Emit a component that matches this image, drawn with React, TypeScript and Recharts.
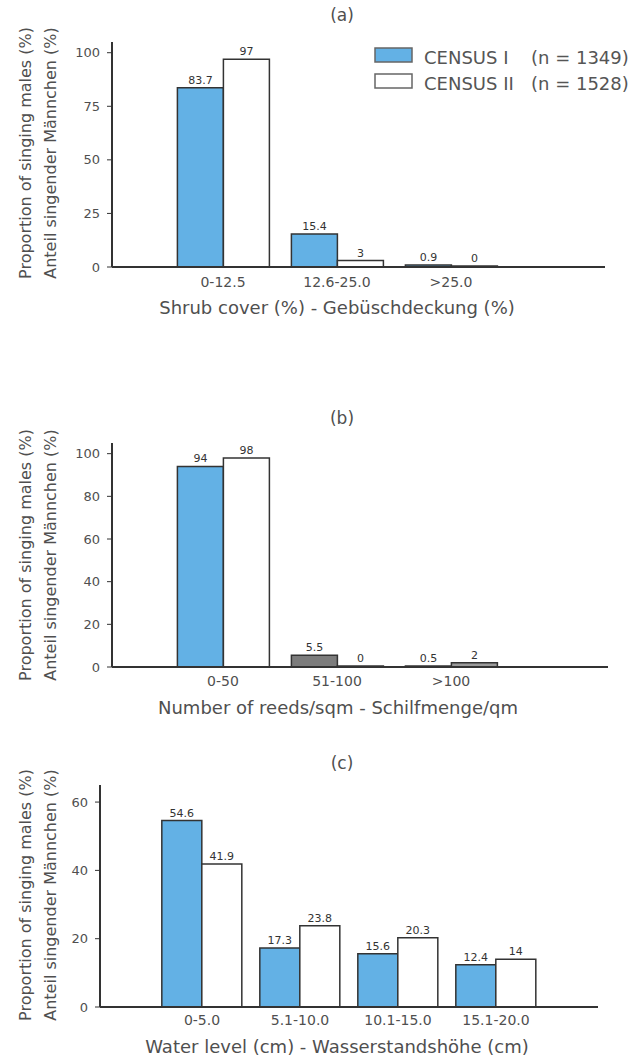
import React from 'react';
import { BarChart, Bar, XAxis, YAxis, LabelList, Legend, Cell } from 'recharts';

const seriesNames = ['CENSUS I', 'CENSUS II'];
const seriesCounts = [1349, 1528];

const shrubCategories = ['0-12.5', '12.6-25.0', '>25.0'];
const shrubCensus1 = [83.7, 15.4, 0.9];
const shrubCensus2 = [97, 3, 0];
const shrubTicks = [0, 25, 50, 75, 100];

const reedCategories = ['0-50', '51-100', '>100'];
const reedCensus1 = [94, 5.5, 0.5];
const reedCensus2 = [98, 0, 2];
const reedTicks = [0, 20, 40, 60, 80, 100];

const waterCategories = ['0-5.0', '5.1-10.0', '10.1-15.0', '15.1-20.0'];
const waterCensus1 = [54.6, 17.3, 15.6, 12.4];
const waterCensus2 = [41.9, 23.8, 20.3, 14];
const waterTicks = [0, 20, 40, 60];

const BLUE = '#63b1e5';
const WHITE = '#ffffff';
const FONT = 'DejaVu Sans';
const TEXT = '#4f4f4f';
const AXIS = '#333333';

const build = (cats: string[], a: number[], b: number[]) =>
  cats.map((cat, i) => ({ cat, c1: a[i], c2: b[i] }));

const shrubData = build(shrubCategories, shrubCensus1, shrubCensus2);
const reedData = build(reedCategories, reedCensus1, reedCensus2);
const waterData = build(waterCategories, waterCensus1, waterCensus2);

const reedFills1 = [BLUE, '#7c7c7c', BLUE];
const reedFills2 = [WHITE, WHITE, '#9a9a9a'];

const XTitle = (props: any) => (
  <text x={props.cx} y={props.cy} textAnchor="middle" dominantBaseline="central"
    fontSize={18} fill={TEXT} fontFamily={FONT}>{props.text}</text>
);

const YTitle = (props: any) => (
  <g>
    <text x={25} y={props.cy} transform={`rotate(-90, 25, ${props.cy})`} textAnchor="middle"
      dominantBaseline="central" fontSize={16} fill={TEXT} fontFamily={FONT}>
      Proportion of singing males (%)
    </text>
    <text x={50} y={props.cy} transform={`rotate(-90, 50, ${props.cy})`} textAnchor="middle"
      dominantBaseline="central" fontSize={16} fill={TEXT} fontFamily={FONT}>
      Anteil singender Männchen (%)
    </text>
  </g>
);

const LegendContent = (props: any) => {
  const payload = props.payload || [];
  return (
    <svg width={270} height={46} style={{ display: 'block' }}>
      {payload.map((entry: any, i: number) => (
        <g key={i} transform={`translate(0, ${i * 26})`}>
          <rect x={1} y={1} width={37} height={14} fill={entry.color} stroke="#666" strokeWidth={1.5} />
          <text x={50} y={10} dominantBaseline="central" fontSize={18} fill="#555" fontFamily={FONT}>
            {seriesNames[i]}
          </text>
          <text x={157} y={10} dominantBaseline="central" fontSize={18} fill="#555" fontFamily={FONT}>
            {`(n = ${seriesCounts[i]})`}
          </text>
        </g>
      ))}
    </svg>
  );
};

type PanelProps = {
  data: any[];
  ticks: number[];
  domainMax: number;
  top: number;
  height: number;
  margin: { top: number; right: number; bottom: number; left: number };
  padding: { left: number; right: number };
  gap: string;
  title: string;
  titleY: number;
  xLabel: string;
  xLabelX: number;
  xLabelY: number;
  yLabelY: number;
  tickMargin: number;
  fills1?: string[];
  fills2?: string[];
  legend?: boolean;
};

const Panel = (p: PanelProps) => (
  <div style={{ position: 'absolute', left: 0, top: p.top, width: 642, height: p.height }}>
    <div style={{ position: 'absolute', left: 242, width: 200, top: p.titleY - 10, textAlign: 'center',
      fontFamily: FONT, fontSize: 17, lineHeight: '20px', color: TEXT }}>{p.title}</div>
    <BarChart width={642} height={p.height} data={p.data} margin={p.margin}
      barCategoryGap={p.gap} barGap={0}>
      <XAxis dataKey="cat" interval={0} tickLine={false} tickSize={0} tickMargin={p.tickMargin}
        height={30} padding={p.padding}
        axisLine={{ stroke: AXIS, strokeWidth: 2 }}
        tick={{ fontSize: 14, fill: TEXT, fontFamily: FONT }}
        label={<XTitle cx={p.xLabelX} cy={p.xLabelY} text={p.xLabel} />} />
      <YAxis domain={[0, p.domainMax]} ticks={p.ticks} width={60} tickSize={5} tickMargin={7}
        axisLine={{ stroke: AXIS, strokeWidth: 2 }} tickLine={{ stroke: AXIS }}
        tick={{ fontSize: 13, fill: TEXT, fontFamily: FONT }}
        label={<YTitle cy={p.yLabelY} />} />
      {p.legend && (
        <Legend layout="horizontal" verticalAlign="middle" align="center"
          wrapperStyle={{ position: 'absolute', left: 374, top: 47, width: 270, height: 46 }}
          content={<LegendContent />} />
      )}
      <Bar dataKey="c1" name={seriesNames[0]} fill={BLUE} stroke={AXIS} strokeWidth={1.5}
        minPointSize={1} isAnimationActive={false}>
        {p.fills1 && p.data.map((_, i) => <Cell key={i} fill={p.fills1![i]} />)}
        <LabelList dataKey="c1" position="top" offset={4} fontSize={11} fill="#333" fontFamily={FONT} />
      </Bar>
      <Bar dataKey="c2" name={seriesNames[1]} fill={WHITE} stroke={AXIS} strokeWidth={1.5}
        minPointSize={1} isAnimationActive={false}>
        {p.fills2 && p.data.map((_, i) => <Cell key={i} fill={p.fills2![i]} />)}
        <LabelList dataKey="c2" position="top" offset={4} fontSize={11} fill="#333" fontFamily={FONT} />
      </Bar>
    </BarChart>
  </div>
);

export default function App() {
  return (
    <div style={{ position: 'absolute', left: 0, top: 0, width: 642, height: 1056, background: '#fff',
      fontFamily: FONT }}>
      <Panel data={shrubData} ticks={shrubTicks} domainMax={105} top={0} height={340}
        margin={{ top: 42, right: 37, bottom: 43, left: 52 }} padding={{ left: 54, right: 97 }}
        gap="10%" title="(a)" titleY={15}
        xLabel="Shrub cover (%) - Gebüschdeckung (%)" xLabelX={337} xLabelY={307}
        yLabelY={153} tickMargin={10} legend />
      <Panel data={reedData} ticks={reedTicks} domainMax={105} top={340} height={380}
        margin={{ top: 103, right: 34, bottom: 23, left: 52 }} padding={{ left: 54, right: 100 }}
        gap="10%" title="(b)" titleY={78}
        xLabel="Number of reeds/sqm - Schilfmenge/qm" xLabelX={338} xLabelY={367}
        yLabelY={215} tickMargin={9} fills1={reedFills1} fills2={reedFills2} />
      <Panel data={waterData} ticks={waterTicks} domainMax={65} top={720} height={336}
        margin={{ top: 65, right: 44, bottom: 19, left: 40 }} padding={{ left: 53, right: 53 }}
        gap="9%" title="(c)" titleY={43}
        xLabel="Water level (cm) - Wasserstandshöhe (cm)" xLabelX={337} xLabelY={326}
        yLabelY={175} tickMargin={8} />
    </div>
  );
}
